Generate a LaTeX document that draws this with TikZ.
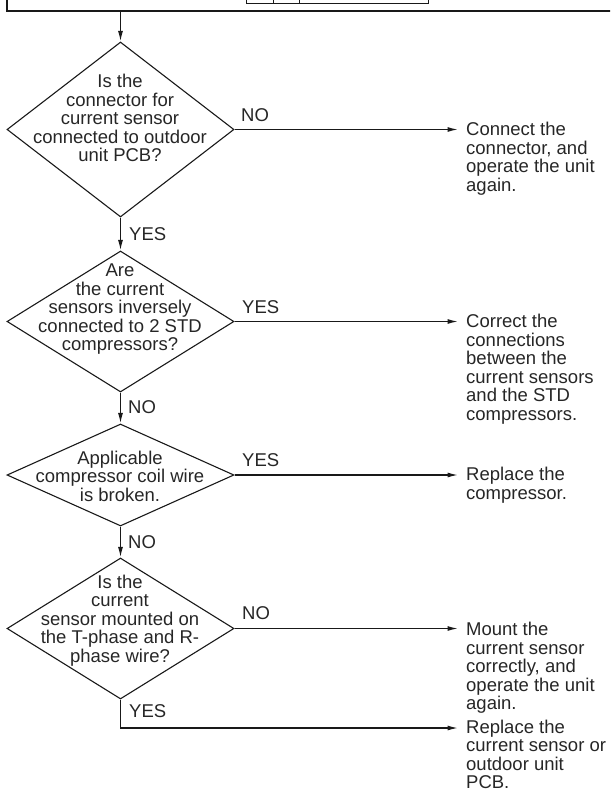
\documentclass[tikz,border=0pt]{standalone}
\usepackage{fontspec}
\setmainfont{Liberation Sans}
\usetikzlibrary{shapes.geometric,arrows.meta}
\newcommand\qfont{\fontsize{18.5}{18.5}\selectfont}
\newcommand\qfonttight{\fontsize{18.5}{18.2}\selectfont}
\definecolor{txtcol}{gray}{0.15}
\definecolor{linecol}{gray}{0.1}
\begin{document}
\begin{tikzpicture}[x=1pt,y=-1pt,
  dia/.style={diamond, draw=linecol, line width=1.1pt, inner sep=0pt, minimum width=227pt},
  q/.style={align=center, inner sep=0pt, font=\qfont, text=txtcol},
  ans/.style={align=left, inner sep=0pt, font=\qfont, text=txtcol, anchor=north west},
  lab/.style={inner sep=0pt, font=\qfont, text=txtcol, anchor=west},
  conn/.style={draw=linecol, line width=1.3pt},
  arr/.style={conn, -{Latex[length=10.5pt,width=5pt]}},
  frame/.style={draw=linecol, line width=1.4pt},
  tab/.style={draw=linecol, line width=0.9pt}]
\useasboundingbox (0,0) rectangle (610,791);
\clip (0,0) rectangle (610,791);
% top frame (cut off)
\draw[frame] (7,-5) -- (7,11) -- (620,11);
\draw[tab] (246,-5) -- (246,3.5) -- (428,3.5) -- (428,-5);
\draw[tab] (273,-5) -- (273,3.5);
\draw[tab] (299,-5) -- (299,3.5);
\coordinate (top) at (120.5,11);
\coordinate (ax) at (458,0);
% diamonds
\node[dia, minimum height=175pt] (d1) at (120.5,129.5) {};
\node[dia, minimum height=141pt] (d2) at (120.5,321.5) {};
\node[dia, minimum height=102pt] (d3) at (120.5,475) {};
\node[dia, minimum height=141pt] (d4) at (120.5,628.5) {};
% diamond texts
\node[q] (t1) at (120,118.3) {Is the\\connector for\\current sensor\\connected to outdoor\\unit PCB?};
\node[q] (t2) at (120,309.2) {Are\\the current\\sensors inversely\\connected to 2 STD\\compressors?};
\node[q] (t3) at (120,476) {Applicable\\compressor coil wire\\is broken.};
\node[q] (t4) at (120,620.3) {Is the\\current\\sensor mounted on\\the T-phase and R-\\phase wire?};
% answers
\node[ans] (r1) at (466,122) {Connect the\\connector, and\\operate the unit\\again.};
\node[ans] (r2) at (466,314) {Correct the\\connections\\between the\\current sensors\\and the STD\\compressors.};
\node[ans] (r3) at (466,467) {Replace the\\compressor.};
\node[ans] (r4) at (466,622) {Mount the\\current sensor\\correctly, and\\operate the unit\\again.};
\node[ans, font=\qfonttight] (r5) at (466,720) {Replace the\\current sensor or\\outdoor unit\\PCB.};
% labels
\node[lab] (l1) at (241,115) {NO};
\node[lab] (l2) at (129,234) {YES};
\node[lab] (l3) at (242,307) {YES};
\node[lab] (l4) at (128,407) {NO};
\node[lab] (l5) at (242,460) {YES};
\node[lab] (l6) at (128,542) {NO};
\node[lab] (l7) at (242,613) {NO};
\node[lab] (l8) at (129,711) {YES};
% connectors
\coordinate (e5) at (458,728);
\draw[arr] (top) -- (d1.north);
\draw[arr] (d1.south) -- (d2.north);
\draw[arr] (d2.south) -- (d3.north);
\draw[arr] (d3.south) -- (d4.north);
\draw[arr] (d1.east) -- (d1.east -| ax);
\draw[arr] (d2.east) -- (d2.east -| ax);
\draw[arr] (d3.east) -- (d3.east -| ax);
\draw[arr] (d4.east) -- (d4.east -| ax);
\draw[arr] (d4.south) |- (e5);
\end{tikzpicture}
\end{document}
